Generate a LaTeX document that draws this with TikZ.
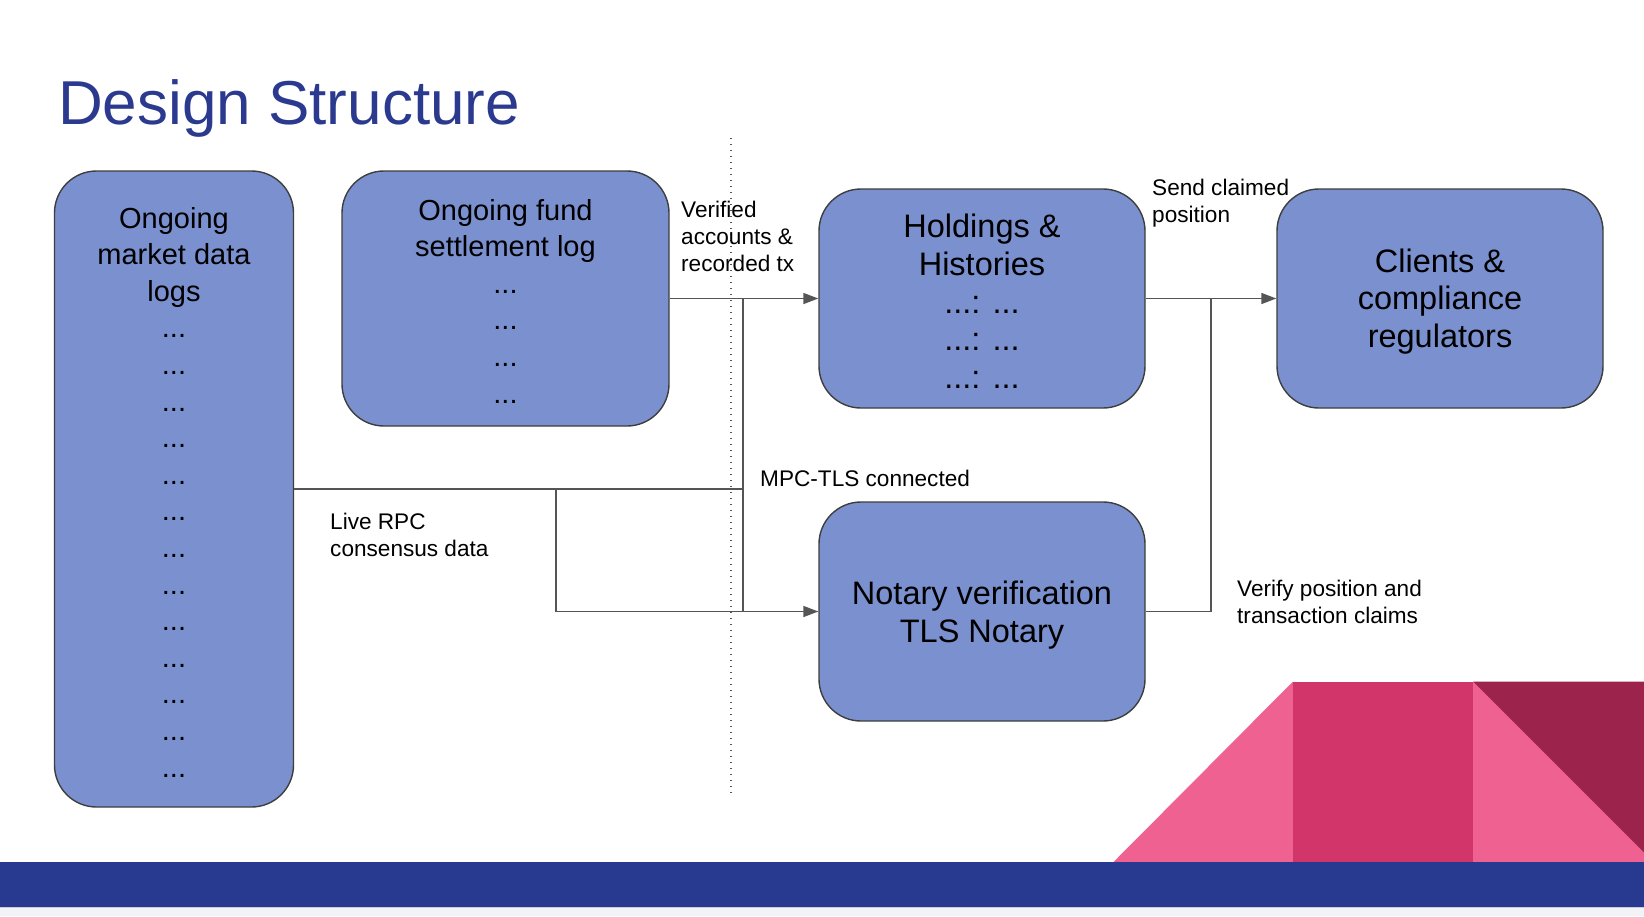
\documentclass[tikz,border=0pt]{standalone}
\usepackage{fontspec}
\setmainfont{Liberation Sans}
\usetikzlibrary{arrows.meta}
\definecolor{boxfill}{HTML}{7A90CF}
\definecolor{boxline}{HTML}{3E3E3E}
\definecolor{conncol}{HTML}{555555}
\definecolor{titleblue}{HTML}{2B3A8F}
\definecolor{barblue}{HTML}{283A8F}
\definecolor{pinklight}{HTML}{EF6190}
\definecolor{pinkmid}{HTML}{D2356A}
\definecolor{maroon}{HTML}{9C234B}
\definecolor{stripgray}{HTML}{F1F3F6}
\definecolor{stripline}{HTML}{C8CDD6}
\begin{document}
\begin{tikzpicture}[x=1pt,y=-1pt,
  box/.style={draw=boxline, line width=1.4pt, fill=boxfill, rounded corners=42pt,
    inner sep=0pt},
  boxtxt/.style={align=center, inner sep=0pt, text=black},
  smalltxt/.style={boxtxt, font=\fontsize{29}{36.6}\selectfont},
  bigtxt/.style={boxtxt, font=\fontsize{32.5}{37.7}\selectfont},
  lbl/.style={font=\fontsize{22.6}{27.3}\selectfont, align=left, inner sep=0pt, anchor=west},
  conn/.style={draw=conncol, line width=1.5pt},
  arr/.style={-{Triangle[length=15pt,width=11pt]}}]
\useasboundingbox (0,0) rectangle (1644,916);
\fill[white] (0,0) rectangle (1644,916);

% title
\node[anchor=base west, inner sep=0pt, text=titleblue, font=\fontsize{62}{70}\selectfont] (title) at (58,124) {Design Structure};

% bottom decoration
\fill[pinklight] (1113.5,862) -- (1293,681.5) -- (1293,862) -- cycle;
\fill[pinkmid] (1293,681.5) rectangle (1473,862);
\fill[pinklight] (1473,681.5) rectangle (1644,862);
\fill[maroon] (1473,681.5) -- (1644,681.5) -- (1644,852.5) -- cycle;
\fill[barblue] (0,862) rectangle (1644,907);
\fill[stripgray] (0,907) rectangle (1644,916);
\draw[stripline, line width=1pt] (0,907.5) -- (1644,907.5);

% dotted separator
\coordinate (d1) at (731,138);
\coordinate (d2) at (731,794);
\draw[conncol, line width=1.3pt, dash pattern=on 1.3pt off 4.7pt] (d1) -- (d2);

% boxes
\node[box, minimum width=239pt, minimum height=636pt] (market) at (174,489) {};
\node[box, minimum width=327pt, minimum height=255pt] (fund) at (505.5,298.5) {};
\node[box, minimum width=326pt, minimum height=219pt] (hold) at (982,298.5) {};
\node[box, minimum width=326pt, minimum height=219pt] (client) at (1440,298.5) {};
\node[box, minimum width=326pt, minimum height=219pt] (notary) at (982,611.5) {};

% box texts
\node[smalltxt] (market-t) at ([yshift=-3pt]market.center)
  {Ongoing\\market data\\logs\\...\\...\\...\\...\\...\\...\\...\\...\\...\\...\\...\\...\\...};
\node[smalltxt] (fund-t) at ([yshift=-2.5pt]fund.center)
  {Ongoing fund\\settlement log\\...\\...\\...\\...};
\node[bigtxt] (hold-t) at ([yshift=-3pt]hold.center)
  {Holdings \&\\Histories\\...: ...\\...: ...\\...: ...};
\node[bigtxt] (client-t) at ([yshift=-3pt]client.center)
  {Clients \&\\compliance\\regulators};
\node[bigtxt] (notary-t) at ([yshift=-3.5pt]notary.center)
  {Notary verification\\TLS Notary};

% junctions
\coordinate (b1) at (743,298.5);
\coordinate (j1) at (743,489);
\coordinate (j2) at (556,489);
\coordinate (b2) at (1211,298.5);

% connectors
\draw[conn, arr] (fund.east) -- (hold.west);
\draw[conn, arr] (b1) |- (notary.west);
\draw[conn] (market.east) -- (j1);
\draw[conn] (j2) |- (notary.west);
\draw[conn, arr] (hold.east) -- (client.west);
\draw[conn] (notary.east) -| (b2);

% labels
\node[lbl] (l1) at (681,236.5) {Verified\\accounts \&\\recorded tx};
\node[lbl] (l2) at (1152,203) {Send claimed\\position};
\node[lbl] (l3) at (760,478) {MPC-TLS connected};
\node[lbl] (l4) at (330,535) {Live RPC\\consensus data};
\node[lbl] (l5) at (1237,602) {Verify position and\\transaction claims};
\end{tikzpicture}
\end{document}
